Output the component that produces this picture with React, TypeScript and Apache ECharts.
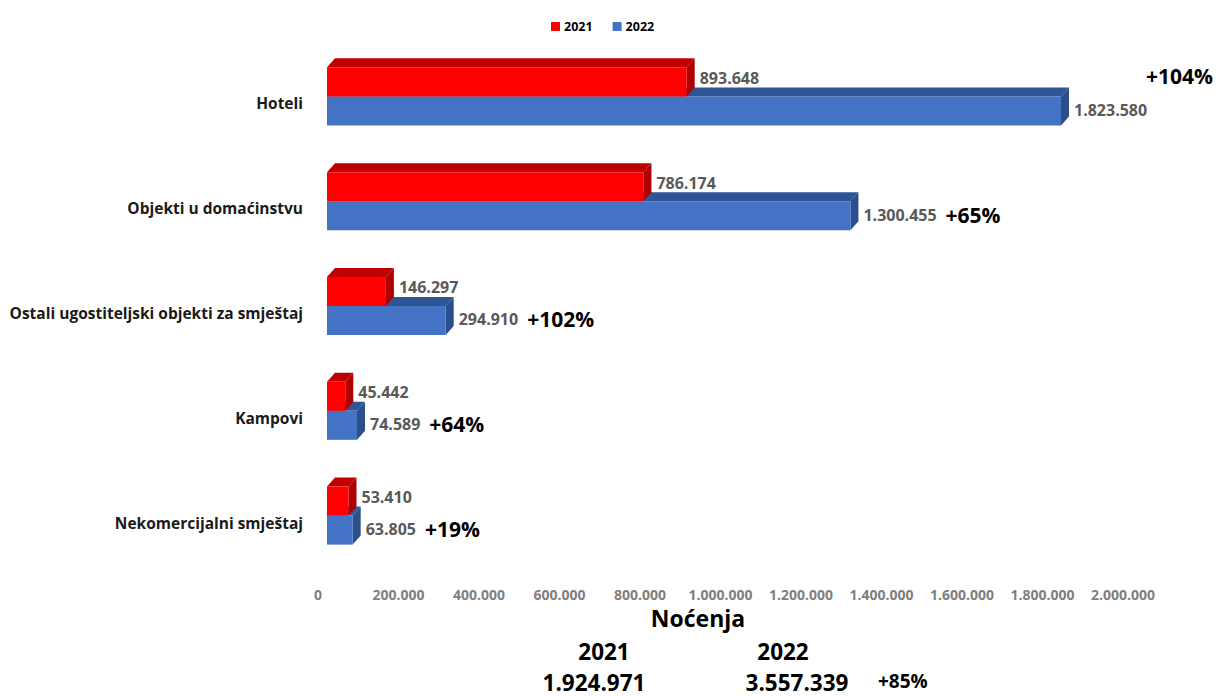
import React, { useEffect, useRef } from "react";
import * as echarts from "echarts";

const categories = [
  "Hoteli",
  "Objekti u domaćinstvu",
  "Ostali ugostiteljski objekti za smještaj",
  "Kampovi",
  "Nekomercijalni smještaj",
];
const years = ["2021", "2022"];
const values2021 = [893648, 786174, 146297, 45442, 53410];
const values2022 = [1823580, 1300455, 294910, 74589, 63805];
const axisMin = 0;
const axisMax = 2000000;
const axisInterval = 200000;
const xTitle = "Noćenja";

const FONT = "'Open Sans'";
const fmt = (n: number) => String(Math.round(n)).replace(/\B(?=(\d{3})+(?!\d))/g, ".");
const pct = (a: number, b: number) => "+" + Math.round((b / a - 1) * 100) + "%";
const sum = (a: number[]) => a.reduce((s, x) => s + x, 0);

let measureCtx: CanvasRenderingContext2D | null = null;
function measure(text: string, font: string) {
  if (!measureCtx) measureCtx = document.createElement("canvas").getContext("2d");
  measureCtx!.font = font;
  return measureCtx!.measureText(text).width;
}

const COLORS = {
  red: { front: "#FF0000", top: "#C00000", side: "#B00000" },
  blue: { front: "#4472C4", top: "#2F5597", side: "#2B4E8C" },
};

const VAL_SIZE = 16;
const PCT_SIZE = 21;

function makeRender(which: 0 | 1, chartWidth: number) {
  const col = which === 0 ? COLORS.red : COLORS.blue;
  return (params: any, api: any) => {
    const v = api.value(0);
    const ci = api.value(1);
    const p0 = api.coord([0, ci]);
    const p1 = api.coord([v, ci]);
    const band = api.size([0, 1])[1];
    const h = band * 0.277;
    const boundary = p0[1] - band * 0.067;
    const yt = which === 0 ? boundary - h : boundary;
    const yb = yt + h;
    const x0 = p0[0];
    const xe = p1[0];
    const dx = 8;
    const dy = -9;
    const children: any[] = [
      {
        type: "polygon",
        shape: { points: [[x0, yt], [x0 + dx, yt + dy], [xe + dx, yt + dy], [xe, yt]] },
        style: { fill: col.top },
      },
      {
        type: "polygon",
        shape: { points: [[xe, yt], [xe + dx, yt + dy], [xe + dx, yb + dy], [xe, yb]] },
        style: { fill: col.side },
      },
      {
        type: "rect",
        shape: { x: x0, y: yt, width: xe - x0, height: h },
        style: { fill: col.front },
      },
    ];
    const label = fmt(v);
    const lx = xe + dx + 5;
    const ly = (yt + yb) / 2 - (which === 0 ? 4 : 1);
    const valFont = `bold ${VAL_SIZE}px ${FONT}`;
    const pctFont = `bold ${PCT_SIZE}px ${FONT}`;
    children.push({
      type: "text",
      style: { text: label, x: lx, y: ly, fill: "#595959", font: valFont, align: "left", verticalAlign: "middle" },
    });
    if (which === 1) {
      const pctText = pct(values2021[ci], values2022[ci]);
      const lw = measure(label, valFont);
      const pw = measure(pctText, pctFont);
      const gap = 9;
      if (lx + lw + gap + pw > chartWidth - 60) {
        children.push({
          type: "text",
          style: {
            text: pctText,
            x: chartWidth - 3,
            y: yt - h / 2 - 6,
            fill: "#000",
            font: pctFont,
            align: "right",
            verticalAlign: "middle",
          },
        });
      } else {
        children.push({
          type: "text",
          style: {
            text: pctText,
            x: lx + lw + gap,
            y: ly,
            fill: "#000",
            font: pctFont,
            align: "left",
            verticalAlign: "middle",
          },
        });
      }
    }
    return { type: "group", children };
  };
}

export default function App() {
  const ref = useRef<HTMLDivElement>(null);
  useEffect(() => {
    document.body.style.margin = "0";
    const el = ref.current!;
    const chart = echarts.init(el, null, { renderer: "svg" });
    const W = 1216;
    const total21 = sum(values2021);
    const total22 = sum(values2022);
    const bold = (size: number) => ({ fontFamily: FONT, fontWeight: "bold", fontSize: size, fill: "#000" });
    chart.setOption({
      animation: false,
      backgroundColor: "#fff",
      legend: {
        data: years,
        top: 15,
        left: 546,
        itemWidth: 9,
        itemHeight: 9,
        itemGap: 20,
        icon: "rect",
        textStyle: { fontFamily: FONT, fontWeight: "bold", fontSize: 12.5, color: "#000", padding: [0, 0, 0, -1] },
      },
      grid: { left: 327, right: 84, top: 51, bottom: 121, containLabel: false },
      xAxis: {
        type: "value",
        min: axisMin,
        max: axisMax,
        interval: axisInterval,
        axisLine: { show: false },
        axisTick: { show: false },
        splitLine: { show: false },
        axisLabel: {
          margin: 12,
          color: "#7f7f7f",
          fontFamily: FONT,
          fontWeight: "bold",
          fontSize: 14,
          padding: [0, 18, 0, 0],
          formatter: (v: number) => fmt(v),
        },
      },
      yAxis: {
        type: "category",
        data: categories,
        inverse: true,
        axisLine: { show: false },
        axisTick: { show: false },
        splitLine: { show: false },
        axisLabel: {
          margin: 24,
          color: "#1a1a1a",
          fontFamily: FONT,
          fontWeight: "bold",
          fontSize: 15.5,
        },
      },
      series: [
        {
          name: years[1],
          type: "custom",
          z: 2,
          itemStyle: { color: COLORS.blue.front },
          encode: { x: 0, y: 1 },
          data: values2022.map((v, i) => [v, i]),
          renderItem: makeRender(1, W),
        },
        {
          name: years[0],
          type: "custom",
          z: 3,
          itemStyle: { color: COLORS.red.front },
          encode: { x: 0, y: 1 },
          data: values2021.map((v, i) => [v, i]),
          renderItem: makeRender(0, W),
        },
      ],
      graphic: [
        { type: "text", x: 698, y: 618, style: { ...bold(23), text: xTitle, align: "center", verticalAlign: "middle" } },
        { type: "text", x: 604, y: 651, style: { ...bold(22.5), text: years[0], align: "center", verticalAlign: "middle" } },
        { type: "text", x: 783, y: 651, style: { ...bold(22.5), text: years[1], align: "center", verticalAlign: "middle" } },
        { type: "text", x: 594, y: 682, style: { ...bold(22.5), text: fmt(total21), align: "center", verticalAlign: "middle" } },
        { type: "text", x: 797, y: 682, style: { ...bold(22.5), text: fmt(total22), align: "center", verticalAlign: "middle" } },
        { type: "text", x: 878, y: 681, style: { ...bold(19), text: pct(total21, total22), align: "left", verticalAlign: "middle" } },
      ],
    });
    return () => chart.dispose();
  }, []);
  return <div ref={ref} style={{ width: 1216, height: 696 }} />;
}
